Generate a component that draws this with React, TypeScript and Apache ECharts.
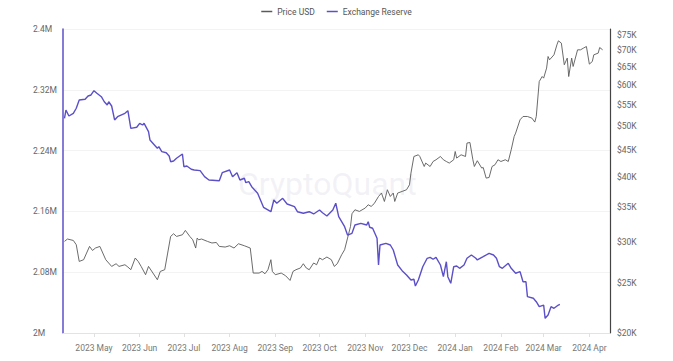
import React, { useEffect, useRef } from "react";
import * as echarts from "echarts";

const priceDates = [
  "2023-04-11","2023-04-13","2023-04-17","2023-04-19","2023-04-20","2023-04-21","2023-04-24","2023-04-26","2023-04-28","2023-04-30",
  "2023-05-02","2023-05-05","2023-05-07","2023-05-09","2023-05-13","2023-05-16","2023-05-18","2023-05-22","2023-05-24","2023-05-26",
  "2023-05-29","2023-05-31","2023-06-02","2023-06-05","2023-06-07","2023-06-10","2023-06-13","2023-06-15","2023-06-18","2023-06-20",
  "2023-06-22","2023-06-24","2023-06-26","2023-06-30","2023-07-02","2023-07-05","2023-07-07","2023-07-09","2023-07-10","2023-07-11",
  "2023-07-13","2023-07-17","2023-07-20","2023-07-23","2023-07-25","2023-07-29","2023-08-01","2023-08-04","2023-08-07","2023-08-11",
  "2023-08-15","2023-08-17","2023-08-21","2023-08-23","2023-08-25","2023-08-27","2023-08-29","2023-08-30","2023-09-01","2023-09-05",
  "2023-09-08","2023-09-11","2023-09-13","2023-09-15","2023-09-18","2023-09-20","2023-09-22","2023-09-24","2023-09-27","2023-09-29",
  "2023-10-01","2023-10-03","2023-10-06","2023-10-09","2023-10-11","2023-10-13","2023-10-16","2023-10-18","2023-10-20","2023-10-22",
  "2023-10-23","2023-10-25","2023-10-28","2023-11-01","2023-11-03","2023-11-05","2023-11-07","2023-11-10","2023-11-12","2023-11-14",
  "2023-11-16","2023-11-18","2023-11-20","2023-11-21","2023-11-23","2023-11-26","2023-11-29","2023-12-01","2023-12-02","2023-12-04",
  "2023-12-07","2023-12-08","2023-12-11","2023-12-12","2023-12-15","2023-12-17","2023-12-19","2023-12-22","2023-12-24","2023-12-26",
  "2023-12-28","2023-12-31","2024-01-01","2024-01-02","2024-01-05","2024-01-08","2024-01-09","2024-01-11","2024-01-13","2024-01-14",
  "2024-01-16","2024-01-19","2024-01-20","2024-01-22","2024-01-24","2024-01-26","2024-01-28","2024-01-30","2024-02-01","2024-02-04",
  "2024-02-06","2024-02-08","2024-02-10","2024-02-11","2024-02-14","2024-02-16","2024-02-19","2024-02-22","2024-02-24","2024-02-25",
  "2024-02-27","2024-02-29","2024-03-01","2024-03-03","2024-03-04","2024-03-05","2024-03-08","2024-03-10","2024-03-11","2024-03-13",
  "2024-03-15","2024-03-17","2024-03-18","2024-03-20","2024-03-21","2024-03-24","2024-03-26","2024-03-28","2024-03-30","2024-04-01",
  "2024-04-03","2024-04-04","2024-04-07","2024-04-08","2024-04-10"
];
const priceValues = [
  30020,30340,30150,29580,28510,27470,27680,28510,29360,28840,
  29150,29360,28510,27680,26870,27190,26870,27070,26800,26480,
  27890,27470,26870,25900,26870,26090,25330,26280,26480,28510,
  30690,31060,30690,30920,31520,30690,30240,29150,30470,30240,
  30340,30020,29810,29880,29360,29280,29450,29150,29710,29450,
  29150,26090,26090,26280,26010,26480,27680,26280,25900,26090,
  25780,25250,26280,26480,26680,27190,26680,26480,27280,27070,
  27890,27680,28010,27680,26870,27190,28300,28930,30470,32080,
  33940,34540,34290,34810,35320,35060,35480,36640,37200,35840,
  37750,36640,37200,35840,37200,37470,37750,38590,40650,43750,
  44080,43750,41850,42490,41850,42790,43120,43750,43120,42790,
  42490,43120,44730,43440,44080,43750,46430,46550,43120,41850,
  42930,41560,41670,39750,39860,41850,42170,43120,42790,43120,
  42790,45070,47810,48530,51480,52240,52240,51870,50960,52240,
  61000,62370,61930,64740,68160,67170,68670,71780,73070,72330,
  65700,67680,62370,67680,65210,70210,70210,70740,71250,65900,
  66660,68670,69190,70930,70210
];

const reserveDates = [
  "2023-04-11","2023-04-12","2023-04-14","2023-04-17","2023-04-19","2023-04-21","2023-04-25","2023-04-27","2023-04-29","2023-05-01",
  "2023-05-03","2023-05-06","2023-05-08","2023-05-10","2023-05-11","2023-05-13","2023-05-15","2023-05-17","2023-05-22","2023-05-24",
  "2023-05-26","2023-05-30","2023-06-01","2023-06-03","2023-06-04","2023-06-07","2023-06-08","2023-06-11","2023-06-13","2023-06-14",
  "2023-06-16","2023-06-19","2023-06-21","2023-06-22","2023-06-24","2023-06-26","2023-06-30","2023-07-01","2023-07-03","2023-07-06",
  "2023-07-08","2023-07-12","2023-07-15","2023-07-18","2023-07-25","2023-07-27","2023-08-01","2023-08-03","2023-08-06","2023-08-08",
  "2023-08-11","2023-08-12","2023-08-14","2023-08-16","2023-08-20","2023-08-24","2023-08-29","2023-08-31","2023-09-02","2023-09-06",
  "2023-09-09","2023-09-14","2023-09-16","2023-09-20","2023-09-24","2023-09-27","2023-10-01","2023-10-03","2023-10-06","2023-10-10",
  "2023-10-12","2023-10-14","2023-10-18","2023-10-20","2023-10-23","2023-10-25","2023-10-29","2023-11-02","2023-11-03","2023-11-04",
  "2023-11-06","2023-11-09","2023-11-10","2023-11-11","2023-11-15","2023-11-18","2023-11-20","2023-11-23","2023-11-26","2023-11-29",
  "2023-12-02","2023-12-04","2023-12-05","2023-12-07","2023-12-10","2023-12-13","2023-12-15","2023-12-17","2023-12-19","2023-12-22",
  "2023-12-24","2023-12-26","2023-12-27","2023-12-29","2023-12-31","2024-01-02","2024-01-04","2024-01-07","2024-01-09","2024-01-12",
  "2024-01-15","2024-01-16","2024-01-20","2024-01-24","2024-01-27","2024-01-29","2024-01-31","2024-02-02","2024-02-06","2024-02-08",
  "2024-02-11","2024-02-14","2024-02-16","2024-02-18","2024-02-19","2024-02-23","2024-02-25","2024-02-27","2024-03-01","2024-03-02",
  "2024-03-04","2024-03-06","2024-03-08","2024-03-11","2024-03-12"
];
const reserveValues = [
  2282500,2293400,2285500,2289100,2295700,2306600,2307500,2311800,2313200,2318800,
  2315400,2310900,2304300,2300000,2304300,2298700,2280300,2284600,2289100,2292500,
  2269300,2270700,2275900,2273700,2275900,2264900,2253900,2247400,2243000,2245100,
  2238600,2237200,2232900,2225400,2226300,2229900,2235500,2218800,2219700,2215400,
  2214500,2213600,2205700,2201300,2200400,2210900,2214500,2205700,2210900,2201300,
  2203600,2197800,2199100,2192500,2183800,2165400,2159600,2175000,2170700,2177200,
  2169700,2166200,2159600,2157500,2159600,2156600,2161800,2158300,2153900,2161800,
  2170700,2153000,2139900,2128900,2131200,2142100,2144300,2142100,2146400,2139100,
  2137800,2124600,2089500,2115800,2118000,2115800,2109200,2089500,2082000,2076300,
  2069700,2070700,2061800,2069700,2087200,2098300,2099600,2097000,2099600,2089500,
  2074100,2093800,2074100,2065400,2087200,2088200,2085100,2089500,2098300,2102600,
  2098300,2096100,2100400,2104900,2102600,2098300,2087200,2085100,2091700,2085100,
  2078600,2080700,2067500,2067500,2047800,2045700,2041200,2034600,2036800,2019300,
  2023700,2034600,2032500,2036800,2037800
];

const monthTicks = [
  "2023-05-01","2023-06-01","2023-07-01","2023-08-01","2023-09-01","2023-10-01",
  "2023-11-01","2023-12-01","2024-01-01","2024-02-01","2024-03-01","2024-04-01"
];
const monthNames = ["Jan","Feb","Mar","Apr","May","Jun","Jul","Aug","Sep","Oct","Nov","Dec"];
const priceTicks = [20000,25000,30000,35000,40000,45000,50000,55000,60000,65000,70000,75000];

const PURPLE = "#5b50c8";
const GRAY = "#5a5a5a";
const FONT = "Roboto";

const ts = (d: string) => Date.parse(d + "T00:00:00Z");

export default function App() {
  const ref = useRef<HTMLDivElement>(null);
  useEffect(() => {
    document.body.style.margin = "0";
    const chart = echarts.init(ref.current!, null, { renderer: "svg" });
    const priceData = priceDates.map((d, i) => [ts(d), priceValues[i]]);
    const reserveData = reserveDates.map((d, i) => [ts(d), reserveValues[i]]);
    const tickTs = monthTicks.map(ts);
    chart.setOption({
      animation: false,
      backgroundColor: "#ffffff",
      textStyle: { fontFamily: FONT },
      legend: {
        top: 2,
        left: "center",
        itemWidth: 11,
        itemHeight: 1.5,
        itemGap: 12,
        icon: "rect",
        textStyle: { fontSize: 8.5, color: "#555", fontFamily: FONT },
        data: ["Price USD", "Exchange Reserve"],
      },
      graphic: [
        {
          type: "text",
          left: 238,
          top: 168,
          silent: true,
          z: 0,
          style: {
            text: "CryptoQuant",
            fontSize: 32,
            fontFamily: FONT,
            fill: "rgba(190,190,210,0.2)",
          },
        },
      ],
      grid: { left: 63, right: 63, top: 29, bottom: 28 },
      xAxis: {
        type: "value",
        min: ts("2023-04-10"),
        max: ts("2024-04-15"),
        axisLine: { lineStyle: { color: "#e3e3e3" } },
        axisTick: { show: true, customValues: tickTs, length: 4, lineStyle: { color: "#e0e0e0" } },
        axisLabel: {
          customValues: tickTs,
          fontSize: 8.5,
          color: "#777",
          margin: 10,
          formatter: (v: number) => {
            const d = new Date(v);
            return d.getUTCFullYear() + " " + monthNames[d.getUTCMonth()];
          },
        },
        splitLine: { show: false },
      },
      yAxis: [
        {
          type: "value",
          position: "left",
          min: 2000000,
          max: 2400000,
          interval: 80000,
          axisLine: { show: true, lineStyle: { color: PURPLE, width: 1.5 } },
          axisTick: { show: false },
          axisLabel: {
            align: "left",
            margin: 30,
            fontSize: 8.5,
            color: "#666",
            formatter: (v: number) => +(v / 1000000).toFixed(2) + "M",
          },
          splitLine: { show: true, lineStyle: { color: "#f3f3f3" } },
        },
        {
          type: "log",
          position: "right",
          min: 20000,
          max: 77000,
          axisLine: { show: true, lineStyle: { color: "#444", width: 1.2 } },
          axisTick: { show: false },
          axisLabel: {
            customValues: priceTicks,
            margin: 7,
            fontSize: 8.5,
            color: "#666",
            formatter: (v: number) => "$" + Math.round(v / 1000) + "K",
          },
          splitLine: { show: false },
        },
      ],
      series: [
        {
          name: "Price USD",
          type: "line",
          yAxisIndex: 1,
          data: priceData,
          showSymbol: false,
          symbol: "none",
          lineStyle: { color: GRAY, width: 0.9 },
          itemStyle: { color: GRAY },
          z: 3,
        },
        {
          name: "Exchange Reserve",
          type: "line",
          yAxisIndex: 0,
          data: reserveData,
          showSymbol: false,
          symbol: "none",
          lineStyle: { color: PURPLE, width: 1.4 },
          itemStyle: { color: PURPLE },
          z: 4,
        },
      ],
    });
    return () => chart.dispose();
  }, []);
  return <div ref={ref} style={{ width: 673, height: 361 }} />;
}
